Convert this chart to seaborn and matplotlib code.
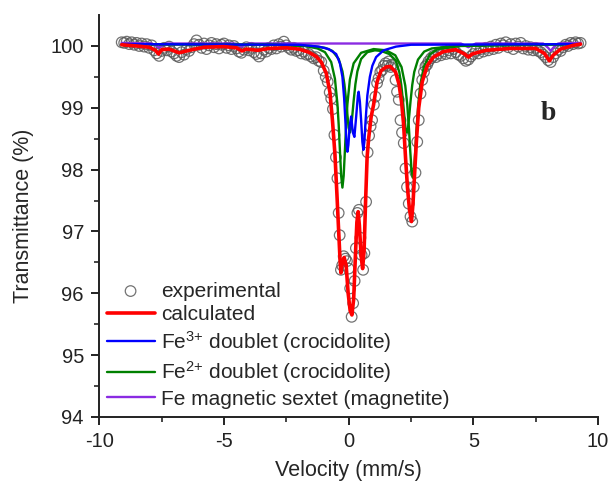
import matplotlib
matplotlib.use("Agg")
import matplotlib.pyplot as plt
import seaborn as sns
import pandas as pd

# experimental points (velocity mm/s, transmittance %)
exp_v = [-9.1, -9.0, -8.9, -8.8, -8.7, -8.6, -8.5, -8.4, -8.3, -8.2, -8.1, -8.0, -7.9, -7.8, -7.7,
         -7.6, -7.5, -7.4, -7.3, -7.2, -7.1, -7.0, -6.9, -6.8, -6.7, -6.6, -6.5, -6.4, -6.3, -6.2,
         -6.1, -6.0, -5.9, -5.8, -5.7, -5.6, -5.5, -5.4, -5.3, -5.2, -5.1, -5.0, -4.9, -4.8, -4.7,
         -4.6, -4.5, -4.4, -4.3, -4.2, -4.1, -4.0, -3.9, -3.8, -3.7, -3.6, -3.5, -3.4, -3.3, -3.2,
         -3.1, -3.0, -2.9, -2.8, -2.7, -2.6, -2.5, -2.4, -2.3, -2.2, -2.1, -2.0, -1.9, -1.8, -1.7,
         -1.6, -1.5, -1.4, -1.3, -1.2, -1.1, -1.0, -0.92, -0.84, -0.76, -0.70, -0.63, -0.57, -0.51,
         -0.45, -0.40, -0.36, -0.31, -0.26, -0.20, -0.13, -0.07, 0.00, 0.06, 0.12, 0.18, 0.24, 0.29,
         0.35, 0.41, 0.47, 0.52, 0.58, 0.63, 0.70, 0.76, 0.82, 0.88, 0.94, 1.01, 1.07, 1.14, 1.20,
         1.27, 1.34, 1.41, 1.48, 1.55, 1.61, 1.68, 1.74, 1.81, 1.88, 1.94, 2.01, 2.08, 2.14, 2.21,
         2.28, 2.34, 2.41, 2.48, 2.55, 2.61, 2.68, 2.75, 2.81, 2.88, 2.95, 3.02, 3.08, 3.15, 3.2,
         3.3, 3.4, 3.5, 3.6, 3.7, 3.8, 3.9, 4.0, 4.1, 4.2, 4.3, 4.4, 4.5, 4.6, 4.7, 4.8, 4.9, 5.0,
         5.1, 5.2, 5.3, 5.4, 5.5, 5.6, 5.7, 5.8, 5.9, 6.0, 6.1, 6.2, 6.3, 6.4, 6.5, 6.6, 6.7, 6.8,
         6.9, 7.0, 7.1, 7.2, 7.3, 7.4, 7.5, 7.6, 7.7, 7.8, 7.9, 8.0, 8.1, 8.2, 8.3, 8.4, 8.5, 8.6,
         8.7, 8.8, 8.9, 9.0, 9.1, 9.2, 9.3]
exp_t = [100.06, 100.05, 100.07, 100.03, 100.06, 100.02, 100.05, 100.00, 100.04, 99.99, 100.03,
         99.97, 100.01, 99.93, 99.88, 99.84, 99.92, 99.97, 99.93, 99.99, 99.91, 99.88, 99.84, 99.82,
         99.90, 99.86, 99.95, 99.92, 99.98, 100.03, 100.09, 100.02, 99.97, 100.04, 99.95, 100.01,
         100.05, 99.98, 100.03, 99.96, 100.02, 100.04, 99.97, 100.01, 99.95, 100.00, 99.96, 99.91,
         99.89, 99.94, 99.98, 99.93, 99.97, 99.90, 99.87, 99.83, 99.88, 99.94, 99.91, 99.97, 99.95,
         100.01, 99.96, 100.03, 99.99, 100.07, 100.01, 99.97, 99.94, 99.97, 99.92, 99.93, 99.88,
         99.91, 99.86, 99.87, 99.83, 99.80, 99.82, 99.76, 99.74, 99.60, 99.50, 99.42, 99.25, 99.15,
         98.98, 98.56, 98.20, 97.86, 97.30, 96.94, 96.38, 96.45, 96.60, 96.56, 96.52, 96.40, 96.08,
         95.62, 95.84, 96.20, 96.73, 97.30, 97.35, 96.90, 96.62, 96.38, 96.65, 97.48, 98.28, 98.55,
         98.70, 98.80, 99.05, 99.18, 99.40, 99.48, 99.58, 99.61, 99.68, 99.72, 99.68, 99.75, 99.66,
         99.70, 99.69, 99.45, 99.26, 99.13, 98.80, 98.60, 98.43, 98.02, 97.72, 97.45, 97.24, 97.16,
         97.72, 97.95, 98.45, 98.80, 99.23, 99.45, 99.58, 99.67, 99.70, 99.75, 99.80, 99.84, 99.82,
         99.88, 99.85, 99.91, 99.87, 99.93, 99.88, 99.95, 99.90, 99.86, 99.84, 99.80, 99.76, 99.78,
         99.83, 99.87, 99.92, 99.88, 99.95, 99.91, 99.97, 99.93, 99.99, 99.95, 100.02, 99.97, 100.04,
         100.01, 100.06, 99.98, 100.03, 99.95, 100.04, 99.99, 100.05, 99.96, 100.00, 99.94, 99.98,
         99.93, 99.97, 99.92, 99.90, 99.86, 99.82, 99.77, 99.74, 99.82, 99.88, 99.94, 99.92, 99.98,
         100.02, 100.00, 100.05, 100.03, 100.06, 100.04, 100.05]

# calculated envelope
calc_v = [-9.1, -8.5, -8.0, -7.75, -7.62, -7.5, -7.2, -6.8, -6.4, -5.8, -5.0, -4.5, -4.28, -4.1,
          -3.65, -3.2, -2.5, -2.0, -1.6, -1.3, -1.1, -0.9, -0.75, -0.65, -0.55, -0.47, -0.4, -0.34,
          -0.31, -0.25, -0.18, -0.1, -0.02, 0.06, 0.13, 0.2, 0.27, 0.33, 0.38, 0.43, 0.5, 0.56, 0.62,
          0.68, 0.74, 0.8, 0.9, 1.0, 1.14, 1.3, 1.5, 1.67, 1.88, 2.02, 2.12, 2.2, 2.28, 2.36, 2.44,
          2.52, 2.58, 2.64, 2.72, 2.81, 2.95, 3.15, 3.4, 3.8, 4.3, 4.65, 4.8, 4.95, 5.5, 6.5, 7.5,
          7.85, 8.05, 8.2, 8.5, 9.0, 9.3]
calc_t = [100.02, 100.0, 99.98, 99.93, 99.87, 99.94, 99.95, 99.89, 99.93, 99.98, 99.99, 99.97,
          99.92, 99.95, 99.93, 99.96, 99.97, 99.95, 99.9, 99.83, 99.74, 99.56, 99.25, 98.8, 98.25,
          97.6, 97.0, 96.5, 96.33, 96.5, 96.58, 96.45, 96.0, 95.72, 95.65, 95.9, 96.6, 97.15, 97.32,
          97.1, 96.6, 96.4, 96.7, 97.5, 98.2, 98.5, 98.85, 99.05, 99.42, 99.6, 99.66, 99.67, 99.58,
          99.38, 99.1, 98.75, 98.2, 97.7, 97.35, 97.16, 97.45, 97.9, 98.48, 99.0, 99.42, 99.68,
          99.82, 99.91, 99.94, 99.87, 99.82, 99.87, 99.93, 99.96, 99.96, 99.88, 99.76, 99.85, 99.95,
          100.01, 100.03]

# Fe3+ doublet
fe3_v = [-9.1, -2.0, -1.2, -0.8, -0.5, -0.35, -0.25, -0.18, -0.12, -0.08, -0.05, -0.01, 0.04,
         0.1, 0.17, 0.23, 0.3, 0.37, 0.4, 0.45, 0.5, 0.55, 0.59, 0.63, 0.68, 0.75, 0.85, 0.95,
         1.1, 1.4, 1.9, 2.5, 9.3]
fe3_t = [100.03, 100.02, 99.99, 99.95, 99.87, 99.72, 99.5, 99.15, 98.7, 98.4, 98.29, 98.4, 98.7,
         98.86, 98.6, 98.53, 98.85, 99.2, 99.26, 99.1, 98.8, 98.45, 98.32, 98.45, 98.8, 99.2, 99.5,
         99.68, 99.82, 99.93, 99.99, 100.02, 100.03]

# Fe2+ doublets
fe2a_v = [-9.1, -3.0, -1.75, -1.25, -0.95, -0.7, -0.55, -0.45, -0.4, -0.35, -0.3, -0.25, -0.2,
          -0.15, -0.1, -0.05, 0.05, 0.2, 0.5, 1.0, 1.5, 1.87, 2.12, 2.27, 2.35, 2.42, 2.47, 2.52,
          2.57, 2.62, 2.67, 2.72, 2.79, 2.87, 3.02, 3.27, 3.57, 4.5, 9.3]
fe2a_t = [100.03, 100.02, 100.0, 99.96, 99.9, 99.74, 99.47, 99.06, 98.73, 98.31, 97.9, 97.71,
          97.9, 98.31, 98.73, 99.06, 99.46, 99.72, 99.89, 99.95, 99.93, 99.85, 99.66, 99.36, 99.05,
          98.65, 98.3, 98.0, 97.87, 98.0, 98.3, 98.65, 99.05, 99.37, 99.67, 99.87, 99.95, 100.0,
          100.03]
fe2b_v = [-9.1, -3.0, -1.5, -0.95, -0.65, -0.4, -0.25, -0.17, -0.1, -0.05, 0.0, 0.05, 0.1, 0.15,
          0.2, 0.27, 0.35, 0.5, 0.75, 1.05, 1.3, 1.63, 1.88, 2.03, 2.11, 2.18, 2.23, 2.28, 2.33,
          2.38, 2.43, 2.48, 2.55, 2.63, 2.78, 3.03, 3.33, 4.5, 9.3]
fe2b_t = [100.03, 100.02, 100.0, 99.97, 99.92, 99.79, 99.59, 99.38, 99.11, 98.89, 98.68, 98.6,
          98.68, 98.89, 99.11, 99.38, 99.59, 99.79, 99.9, 99.93, 99.92, 99.87, 99.77, 99.58, 99.37,
          99.1, 98.88, 98.67, 98.6, 98.67, 98.88, 99.1, 99.37, 99.58, 99.78, 99.91, 99.96, 100.01,
          100.03]

# magnetite sextet
mag_v = [-9.1, -7.9, -7.7, -7.6, -7.5, -7.3, -4.6, -4.4, -4.3, -4.2, -4.0, 4.5, 4.7, 4.8, 4.9,
         5.1, 7.8, 8.0, 8.1, 8.2, 8.4, 9.3]
mag_t = [100.05, 100.04, 100.0, 99.97, 100.0, 100.04, 100.04, 100.01, 99.99, 100.01, 100.04,
         100.04, 100.0, 99.98, 100.0, 100.04, 100.04, 99.97, 99.92, 99.97, 100.04, 100.05]

sns.set_style("ticks")
plt.rcParams['font.family'] = ['Liberation Sans', 'DejaVu Sans']
plt.rcParams['mathtext.fontset'] = 'custom'
plt.rcParams['mathtext.rm'] = 'Liberation Sans'
plt.rcParams['mathtext.it'] = 'Liberation Sans'
plt.rcParams['axes.unicode_minus'] = False

fig = plt.figure(figsize=(6.09, 4.86), dpi=100)
ax = fig.add_axes([0.163, 0.142, 0.819, 0.827])

exp = pd.DataFrame({"v": exp_v, "t": exp_t})
sns.scatterplot(data=exp, x="v", y="t", ax=ax, marker="o", s=58, facecolors="none",
                edgecolors="#5a5a5a", linewidth=0.9, alpha=0.85, label="experimental", zorder=2)

sns.lineplot(x=mag_v, y=mag_t, ax=ax, color="#8a2be2", lw=1.7, sort=False, estimator=None,
             label="Fe magnetic sextet (magnetite)", zorder=3)
sns.lineplot(x=fe2a_v, y=fe2a_t, ax=ax, color="#008000", lw=1.7, sort=False, estimator=None,
             label="Fe$^{2{+}}$ doublet (crocidolite)", zorder=4)
sns.lineplot(x=fe2b_v, y=fe2b_t, ax=ax, color="#008000", lw=1.7, sort=False, estimator=None,
             zorder=4)
sns.lineplot(x=fe3_v, y=fe3_t, ax=ax, color="#0000ff", lw=1.7, sort=False, estimator=None,
             label="Fe$^{3{+}}$ doublet (crocidolite)", zorder=5)
sns.lineplot(x=calc_v, y=calc_t, ax=ax, color="#ff0000", lw=2.6, sort=False, estimator=None,
             label="calculated", zorder=6)

ax.set_xlim(-10, 10)
ax.set_ylim(94, 100.5)
ax.set_xticks([-10, -5, 0, 5, 10])
ax.set_xticks([-7.5, -2.5, 2.5, 7.5], minor=True)
ax.set_yticks([94, 95, 96, 97, 98, 99, 100])
ax.set_yticks([94.5, 95.5, 96.5, 97.5, 98.5, 99.5], minor=True)
ax.tick_params(which="major", direction="out", length=6, width=1.4, labelsize=14.5,
               colors="#222222", pad=5)
ax.tick_params(which="minor", direction="out", length=3.5, width=1.2)
for s in ["left", "bottom"]:
    ax.spines[s].set_linewidth(1.4)
    ax.spines[s].set_color("#222222")
sns.despine(ax=ax)

ax.set_xlabel("Velocity (mm/s)", fontsize=15.5, labelpad=6)
ax.set_ylabel("Transmittance (%)", fontsize=15.5, labelpad=12)
ax.text(0.885, 0.74, "b", transform=ax.transAxes, fontsize=20, fontweight="bold",
        family="Liberation Serif")

h, l = ax.get_legend_handles_labels()
order = ["experimental", "calculated", "Fe$^{3{+}}$ doublet (crocidolite)",
         "Fe$^{2{+}}$ doublet (crocidolite)", "Fe magnetic sextet (magnetite)"]
hd = dict(zip(l, h))
ax.legend([hd[k] for k in order], order, loc="lower left", bbox_to_anchor=(-0.002, 0.0),
          frameon=False, fontsize=15, handlelength=2.3, handletextpad=0.3, labelspacing=0.22,
          borderaxespad=0.0)

fig.savefig("out.png", dpi=100)
